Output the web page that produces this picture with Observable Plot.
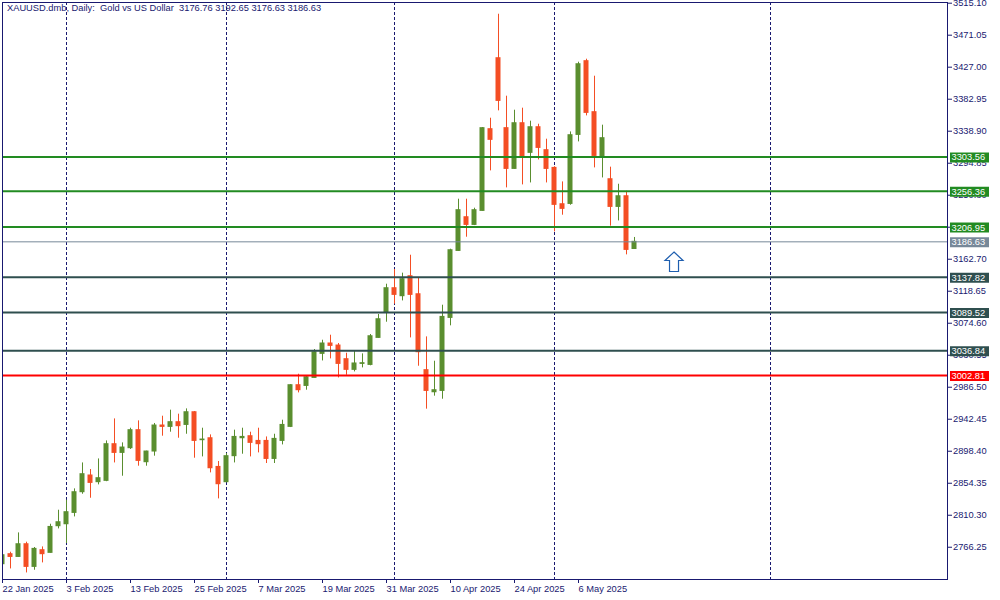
<!DOCTYPE html>
<html><head><meta charset="utf-8">
<script src="https://cdn.jsdelivr.net/npm/d3@7"></script>
<script src="https://cdn.jsdelivr.net/npm/@observablehq/plot@0.6"></script>
<style>
html,body{margin:0;padding:0;background:#fff;}
#chart svg{display:block;}
</style></head><body><div id="chart"></div>
<script>
const title = "XAUUSD.dmb, Daily:  Gold vs US Dollar  3176.76 3192.65 3176.63 3186.63";

const opens = [2742.9,2756.7,2752.9,2770.4,2739.2,2762.2,2758.5,2795.2,2797.9,2813.5,
2842.0,2865.0,2855.8,2857.6,2908.1,2896.1,2902.6,2927.4,2883.3,2898.0,
2933.8,2931.9,2938.4,2934.6,2952.1,2913.6,2916.3,2876.8,2855.8,2891.6,
2916.3,2919.1,2912.6,2912.6,2887.8,2912.6,2931.9,2989.3,2988.3,2999.3,
3032.4,3046.7,3043.9,3025.1,3010.4,3018.6,3017.2,3054.4,3088.8,3122.8,
3111.8,3139.3,3114.5,3010.0,2979.6,2981.4,3081.9,3174.1,3220.5,3209.9,
3229.2,3341.7,3439.4,3343.1,3287.0,3349.9,3309.1,3344.4,3312.8,3288.4,
3238.4,3238.8,3333.8,3435.3,3365.1,3303.5,3272.8,3234.7,3249.4,3176.76];
const highs = [2758.1,2759.4,2786.0,2773.2,2765.9,2766.7,2797.9,2817.2,2831.0,2846.6,
2882.3,2873.2,2887.8,2912.6,2942.9,2909.9,2930.1,2940.2,2898.5,2936.6,
2946.6,2954.9,2949.4,2956.7,2953.1,2930.1,2920.9,2884.3,2895.3,2927.4,
2930.1,2924.6,2930.1,2918.1,2921.8,2941.1,2990.0,3004.4,3001.5,3038.4,
3051.2,3058.1,3046.7,3033.3,3036.5,3032.4,3059.1,3086.6,3128.3,3148.5,
3143.5,3168.2,3137.0,3055.8,3022.3,3099.4,3176.5,3245.3,3245.3,3232.9,
3344.0,3356.8,3499.9,3387.1,3367.8,3370.6,3352.7,3348.5,3327.9,3290.0,
3269.1,3337.9,3433.9,3438.0,3414.6,3347.2,3289.4,3265.9,3256.3,3192.65];
const lows = [2740.2,2736.4,2752.5,2730.9,2734.6,2744.7,2758.1,2791.5,2771.4,2808.0,
2839.2,2833.7,2852.1,2856.5,2882.3,2864.0,2900.8,2877.8,2877.8,2891.6,
2919.1,2924.6,2916.3,2921.8,2888.8,2890.6,2868.6,2832.8,2855.0,2882.3,
2894.3,2890.6,2896.1,2881.5,2881.5,2907.1,2931.0,2978.7,2982.4,2999.0,
3022.7,3025.5,2999.3,3003.0,3007.6,3013.1,3016.0,3054.0,3076.0,3100.8,
3105.3,3054.4,3015.4,2956.3,2974.2,2970.0,3071.0,3173.5,3193.0,3209.0,
3228.8,3284.3,3366.9,3260.9,3286.5,3265.0,3267.7,3299.4,3267.7,3200.3,
3223.3,3237.0,3324.2,3360.0,3288.4,3274.6,3208.2,3215.4,3168.7,3176.63];
const closes = [2755.3,2752.9,2770.4,2739.2,2764.0,2756.7,2794.2,2800.7,2814.5,2842.0,
2866.8,2854.8,2861.3,2908.1,2896.1,2903.5,2927.4,2885.1,2898.0,2933.8,
2931.9,2938.4,2932.9,2952.1,2912.6,2914.5,2875.0,2853.0,2891.6,2918.1,
2918.1,2909.9,2908.1,2887.8,2915.4,2934.6,2989.3,2982.4,3000.3,3034.7,
3046.7,3043.4,3018.6,3010.4,3019.2,3019.6,3056.7,3080.1,3122.8,3113.6,
3135.2,3113.6,3034.7,2981.4,2982.4,3083.3,3175.1,3230.2,3209.9,3230.2,
3343.1,3327.0,3380.6,3287.0,3349.9,3303.5,3344.4,3315.9,3287.0,3237.5,
3232.0,3333.4,3431.1,3364.1,3304.9,3329.3,3234.7,3249.4,3175.5,3186.63];

const xTickIndex = [0,8,16,24,32,40,48,56,64,72];
const xTickLabels = ["22 Jan 2025","3 Feb 2025","13 Feb 2025","25 Feb 2025","7 Mar 2025",
  "19 Mar 2025","31 Mar 2025","10 Apr 2025","24 Apr 2025","6 May 2025"];
const separatorIndex = [8,28,49,69,96];
const yTicks = [3515.10,3471.05,3427.00,3382.95,3338.90,3294.85,3250.80,3206.75,3162.70,
  3118.65,3074.60,3030.55,2986.50,2942.45,2898.40,2854.35,2810.30,2766.25];
const levelPrices = [3303.56,3256.36,3206.95,3186.63,3137.82,3089.52,3036.84,3002.81];
const levelKinds = ["resistance","resistance","resistance","bid","support","support","support","pivot"];
const arrowPoints = [{i: 83.94, price: 3158.9}];

// ---- styles ----
const NAVY = "#191970";
const UP = "#5a8e2f", DOWN = "#f44e24";
const levelStyle = {
  resistance: {color: "#228b22", width: 2},
  bid: {color: "#778899", width: 1},
  support: {color: "#2f4f4f", width: 2},
  pivot: {color: "#ff0000", width: 2}
};

const candles = opens.map((o, i) => ({i, o, h: highs[i], l: lows[i], c: closes[i], up: closes[i] >= o}));
const ups = candles.filter(d => d.up), downs = candles.filter(d => !d.up);
const levels = levelPrices.map((price, k) => ({price, kind: levelKinds[k]}));
const xLabelOf = new Map(xTickIndex.map((d, k) => [d, xTickLabels[k]]));

const boxSymbol = {draw(ctx) { ctx.moveTo(-19.5,-5); ctx.lineTo(19.5,-5); ctx.lineTo(19.5,5); ctx.lineTo(-19.5,5); ctx.closePath(); }};
const arrowSymbol = {draw(ctx) {
  ctx.moveTo(0,-10); ctx.lineTo(9,-1.5); ctx.lineTo(4.5,-1.5); ctx.lineTo(4.5,9.5);
  ctx.lineTo(-4.5,9.5); ctx.lineTo(-4.5,-1.5); ctx.lineTo(-9,-1.5); ctx.closePath(); }};

const levelMarks = Object.keys(levelStyle).map(kind =>
  Plot.ruleY(levels.filter(d => d.kind === kind), {y: "price", stroke: levelStyle[kind].color, strokeWidth: levelStyle[kind].width}));
const boxMarks = Object.keys(levelStyle).map(kind =>
  Plot.dot(levels.filter(d => d.kind === kind), {y: "price", frameAnchor: "right", dx: 22, dy: 0.5, symbol: boxSymbol, fill: levelStyle[kind].color, stroke: "none"}));

const chart = Plot.plot({
  width: 1000, height: 600,
  marginLeft: 2, marginRight: 53, marginTop: 2, marginBottom: 21,
  style: {fontFamily: "'Liberation Sans',sans-serif", fontSize: "9.3px", background: "#fff", overflow: "visible"},
  x: {type: "linear", domain: [0, 118.125]},
  y: {type: "linear", domain: [2721.85, 3516.06]},
  marks: [
    Plot.ruleX(separatorIndex, {x: d => d, stroke: NAVY, strokeDasharray: "3,2", strokeWidth: 1}),
    Plot.ruleX(ups, {x: "i", y1: "l", y2: "h", stroke: UP, strokeWidth: 1, clip: true}),
    Plot.ruleX(downs, {x: "i", y1: "l", y2: "h", stroke: DOWN, strokeWidth: 1, clip: true}),
    Plot.rect(ups, {x1: d => d.i - 0.3125, x2: d => d.i + 0.3125, y1: "o", y2: "c", fill: UP, insetTop: -0.5, insetBottom: -0.5, clip: true}),
    Plot.rect(downs, {x1: d => d.i - 0.3125, x2: d => d.i + 0.3125, y1: "o", y2: "c", fill: DOWN, insetTop: -0.5, insetBottom: -0.5, clip: true}),
    ...levelMarks,
    Plot.dot(arrowPoints, {x: "i", y: "price", symbol: arrowSymbol, fill: "#fff", stroke: "#1f5faf", strokeWidth: 1.2}),
    Plot.frame({stroke: NAVY}),
    Plot.axisY(yTicks, {anchor: "right", tickSize: 4, tickPadding: 1.5, tickFormat: d => d.toFixed(2), color: NAVY, label: null}),
    Plot.axisX(xTickIndex, {anchor: "bottom", tickSize: 4, tickPadding: 2, tickFormat: d => xLabelOf.get(d), textAnchor: "start", color: NAVY, label: null}),
    ...boxMarks,
    Plot.text(levels, {y: "price", text: d => d.price.toFixed(2), frameAnchor: "right", dx: 4, dy: 0.5, textAnchor: "start", fill: "#fff"}),
    Plot.text([title], {frameAnchor: "top-left", dx: 4.5, dy: 2, textAnchor: "start", lineAnchor: "top", fill: NAVY})
  ]
});
document.getElementById("chart").appendChild(chart);
</script></body></html>
